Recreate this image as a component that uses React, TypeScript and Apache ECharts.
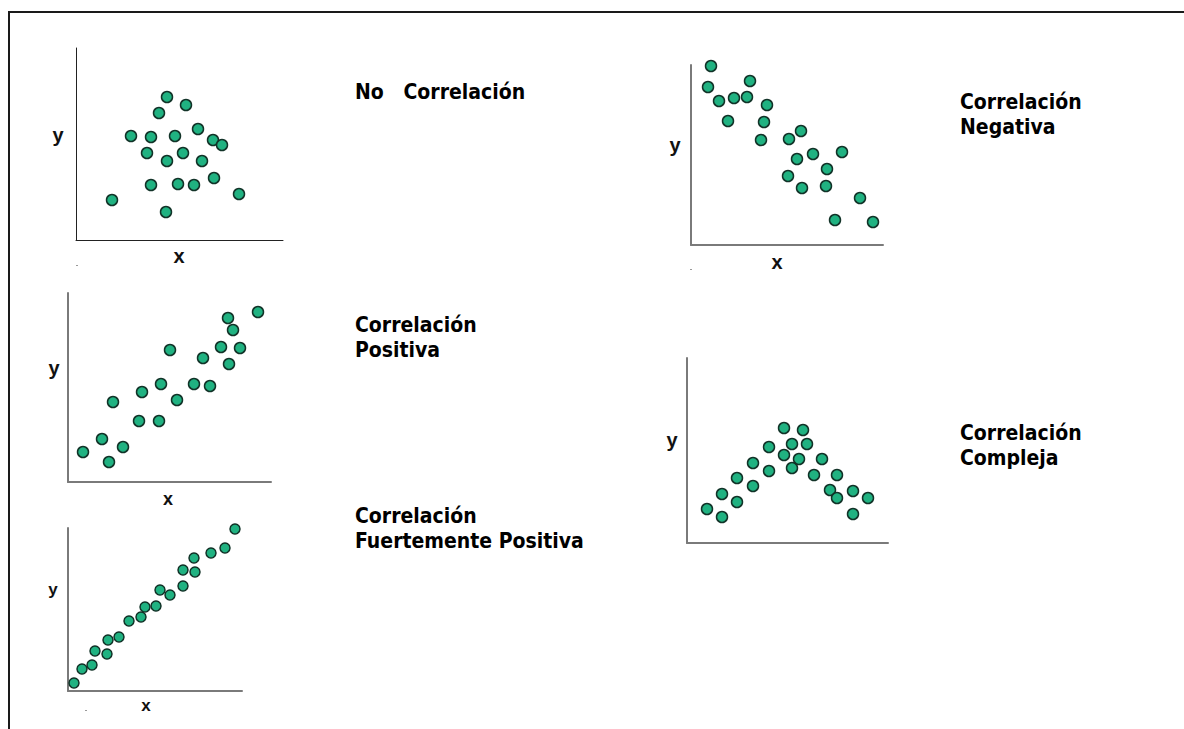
import React, { useEffect, useRef } from "react";
import * as echarts from "echarts";

// Values (arbitrary units, origin at each panel's axis corner)
const noCorrX = [91, 110, 83, 122, 55, 75, 99, 137, 146, 71, 107, 91, 126, 138, 75, 102, 118, 163, 36, 90];
const noCorrY = [143, 135, 127, 111, 104, 103, 104, 100, 95, 87, 87, 79, 79, 62, 55, 56, 55, 46, 40, 28];

const negX = [20, 17, 28, 43, 56, 59, 76, 37, 73, 70, 98, 110, 106, 122, 151, 136, 97, 111, 135, 169, 144, 182];
const negY = [179, 158, 144, 147, 148, 164, 140, 124, 123, 105, 106, 114, 86, 91, 93, 76, 69, 57, 59, 47, 25, 23];

const posX = [15, 34, 41, 55, 45, 71, 74, 91, 93, 102, 109, 126, 142, 135, 153, 161, 172, 165, 160, 190];
const posY = [30, 43, 20, 35, 80, 61, 90, 61, 98, 132, 82, 98, 96, 124, 135, 118, 134, 152, 164, 170];

const strongX = [6, 14, 24, 27, 39, 40, 51, 61, 73, 77, 88, 92, 102, 115, 115, 127, 126, 143, 157, 167];
const strongY = [8, 22, 26, 40, 37, 51, 54, 70, 74, 84, 85, 101, 96, 105, 121, 119, 133, 138, 143, 162];

const complexX = [20, 35, 35, 50, 50, 66, 66, 82, 82, 97, 97, 105, 105, 112, 116, 120, 135, 127, 150, 143, 150, 166, 166, 181];
const complexY = [34, 49, 26, 65, 41, 80, 57, 96, 72, 115, 88, 99, 75, 84, 113, 99, 84, 68, 68, 53, 45, 52, 29, 45];

const titles = [
  "No   Correlación",
  "Correlación\nNegativa",
  "Correlación\nPositiva",
  "Correlación\nFuertemente Positiva",
  "Correlación\nCompleja",
];
const axisNameX = "x";
const axisNameY = "y";

const zip = (xs: number[], ys: number[]) => xs.map((x, i) => [x, ys[i]]);

export default function App() {
  const ref = useRef<HTMLDivElement>(null);
  useEffect(() => {
    if (!ref.current) return;
    const chart = echarts.init(ref.current, null, { renderer: "svg" });

    // panel frames: left, top, right, bottom (pixels)
    const panels = [
      { l: 76, t: 48, r: 283, b: 240, data: zip(noCorrX, noCorrY), axisColor: "#222", axisW: 1, size: 11 },
      { l: 691, t: 65, r: 883, b: 245, data: zip(negX, negY), axisColor: "#7a7a7a", axisW: 2, size: 11 },
      { l: 68, t: 293, r: 271, b: 482, data: zip(posX, posY), axisColor: "#7a7a7a", axisW: 2, size: 11 },
      { l: 68, t: 528, r: 242, b: 691, data: zip(strongX, strongY), axisColor: "#7a7a7a", axisW: 2, size: 10 },
      { l: 687, t: 358, r: 888, b: 543, data: zip(complexX, complexY), axisColor: "#7a7a7a", axisW: 2, size: 11 },
    ];

    const grid = panels.map((p) => ({
      left: p.l,
      top: p.t,
      width: p.r - p.l,
      height: p.b - p.t,
      containLabel: false,
    }));
    const xAxis = panels.map((p, i) => ({
      type: "value",
      gridIndex: i,
      min: 0,
      max: p.r - p.l,
      axisLine: { show: true, onZero: false, lineStyle: { color: p.axisColor, width: p.axisW } },
      axisTick: { show: false },
      axisLabel: { show: false },
      splitLine: { show: false },
    }));
    const yAxis = panels.map((p, i) => ({
      type: "value",
      gridIndex: i,
      min: 0,
      max: p.b - p.t,
      axisLine: { show: true, onZero: false, lineStyle: { color: p.axisColor, width: p.axisW } },
      axisTick: { show: false },
      axisLabel: { show: false },
      splitLine: { show: false },
    }));
    const series = panels.map((p, i) => ({
      type: "scatter",
      xAxisIndex: i,
      yAxisIndex: i,
      data: p.data,
      symbolSize: p.size,
      itemStyle: { color: "#20b281", borderColor: "#123328", borderWidth: 1.5, opacity: 1 },
      silent: true,
    }));

    const titleFont = {
      fontFamily: "'DejaVu Sans Condensed', 'DejaVu Sans', Verdana, sans-serif",
      fontWeight: "bold",
      fontSize: 21,
      fill: "#000",
      lineHeight: 25,
    };
    const titlePos = [
      [355, 79],
      [960, 89],
      [355, 312],
      [355, 503],
      [960, 420],
    ];
    const titleEls = titles.map((t, i) => ({
      type: "text",
      x: titlePos[i][0],
      y: titlePos[i][1],
      style: { ...titleFont, text: t, verticalAlign: "top", align: "left" },
    }));

    const axFont = { fontFamily: "'Liberation Sans', Arial, sans-serif", fontWeight: "bold", fill: "#111" };
    const axisLabels = [
      { t: axisNameY, x: 58, y: 135, s: 20 },
      { t: axisNameX, x: 179, y: 256, s: 20 },
      { t: axisNameY, x: 675, y: 145, s: 20 },
      { t: axisNameX, x: 777, y: 262, s: 20 },
      { t: axisNameY, x: 54, y: 368, s: 20 },
      { t: axisNameX, x: 168, y: 499, s: 18 },
      { t: axisNameY, x: 53, y: 589, s: 17 },
      { t: axisNameX, x: 146, y: 705, s: 17 },
      { t: axisNameY, x: 672, y: 440, s: 20 },
    ].map((a) => ({
      type: "text",
      x: a.x,
      y: a.y,
      style: { ...axFont, fontSize: a.s, text: a.t, align: "center", verticalAlign: "middle" },
    }));

    const specks = [
      [76, 265],
      [690, 269],
      [85, 710],
    ].map(([x, y]) => ({ type: "rect", shape: { x, y, width: 2, height: 1 }, style: { fill: "#999" } }));

    chart.setOption({
      animation: false,
      backgroundColor: "#fff",
      grid,
      xAxis,
      yAxis,
      series,
      graphic: [
        {
          type: "polyline",
          shape: { points: [[9, 729], [9, 12], [1184, 12]] },
          style: { stroke: "#1a1a1a", lineWidth: 2, fill: "none" },
        },
        ...titleEls,
        ...axisLabels,
        ...specks,
      ],
    });
    return () => chart.dispose();
  }, []);
  return <div ref={ref} style={{ position: "absolute", left: 0, top: 0, width: 1184, height: 729 }} />;
}
